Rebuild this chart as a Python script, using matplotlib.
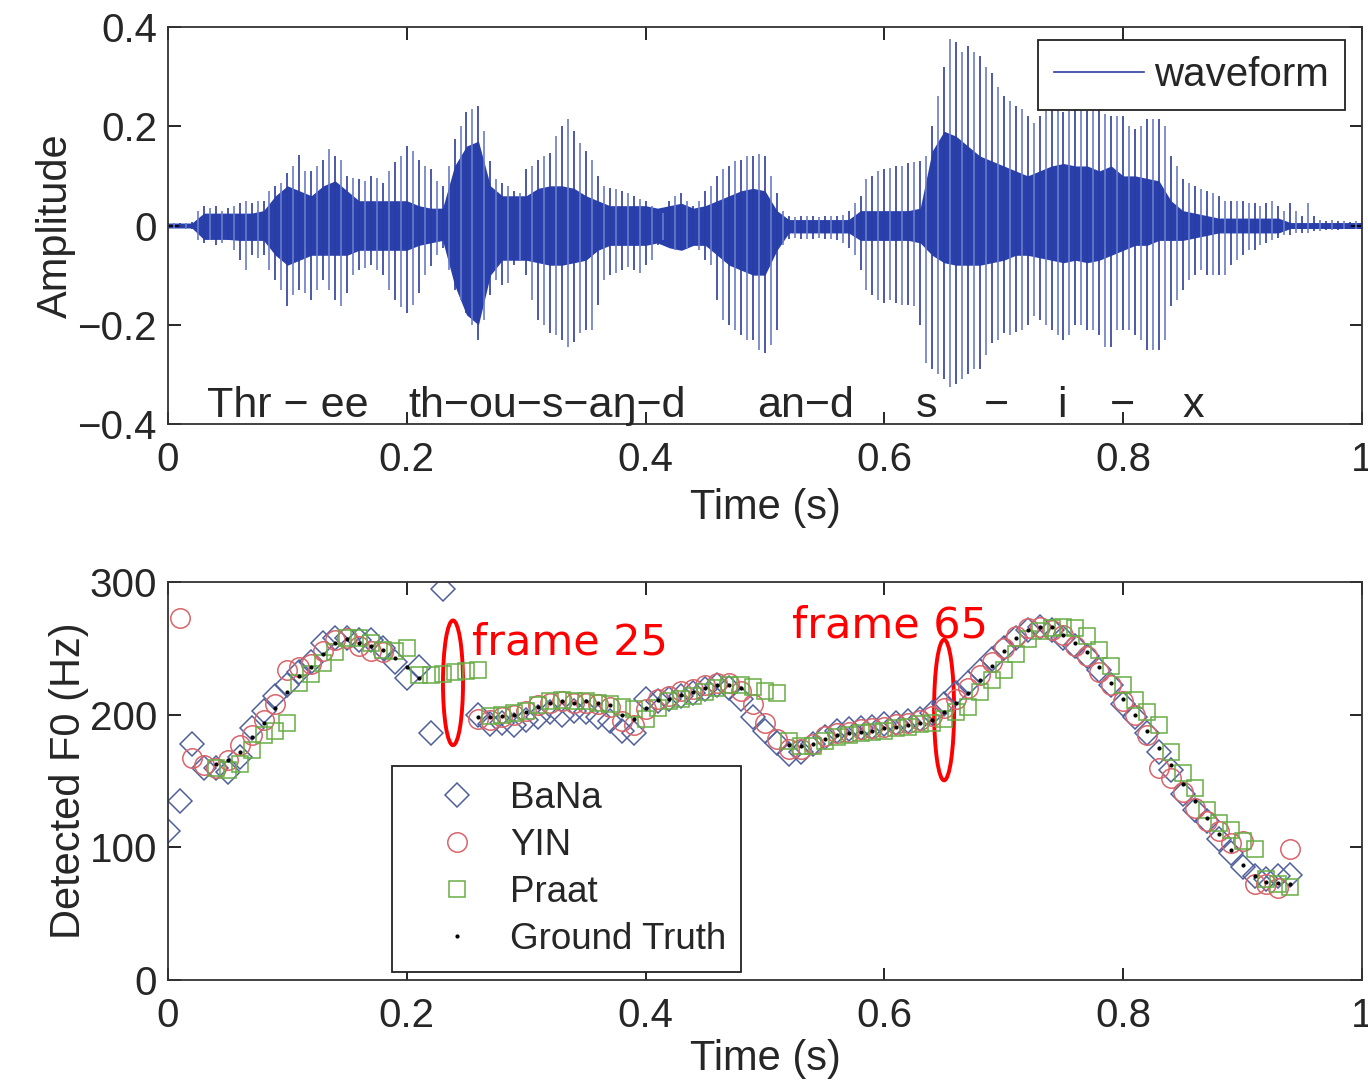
import numpy as np
import matplotlib
matplotlib.use('Agg')
import matplotlib.pyplot as plt
from matplotlib.lines import Line2D
from matplotlib.patches import Ellipse

plt.rcParams['font.family'] = ['Liberation Sans', 'DejaVu Sans']
plt.rcParams['axes.unicode_minus'] = True

nan = np.nan

# ---- waveform ----
# spike extremes every 5 ms (0 .. 1 s)
wave_hi = [
    0.005, 0.006, 0.006, 0.006, 0.008, 0.03, 0.04, 0.035, 0.04, 0.03,
    0.035, 0.04, 0.046, 0.05, 0.045, 0.05, 0.05, 0.07, 0.08, 0.085,
    0.106, 0.12, 0.143, 0.11, 0.11, 0.12, 0.133, 0.154, 0.14, 0.133,
    0.1, 0.095, 0.093, 0.09, 0.1, 0.095, 0.086, 0.11, 0.127, 0.14,
    0.16, 0.15, 0.133, 0.12, 0.113, 0.09, 0.08, 0.12, 0.174, 0.2,
    0.228, 0.235, 0.241, 0.19, 0.13, 0.093, 0.085, 0.08, 0.07, 0.066,
    0.113, 0.12, 0.133, 0.14, 0.147, 0.18, 0.2, 0.214, 0.19, 0.167,
    0.15, 0.133, 0.1, 0.08, 0.075, 0.073, 0.07, 0.066, 0.06, 0.053,
    0.05, 0.04, 0.03, 0.026, 0.05, 0.06, 0.066, 0.05, 0.04, 0.05,
    0.07, 0.08, 0.1, 0.113, 0.12, 0.13, 0.133, 0.14, 0.14, 0.145,
    0.14, 0.1, 0.066, 0.03, 0.02, 0.018, 0.02, 0.019, 0.02, 0.018,
    0.02, 0.019, 0.02, 0.022, 0.03, 0.045, 0.06, 0.093, 0.1, 0.11,
    0.113, 0.115, 0.12, 0.12, 0.125, 0.127, 0.13, 0.14, 0.2, 0.26,
    0.32, 0.376, 0.37, 0.35, 0.362, 0.35, 0.342, 0.32, 0.308, 0.28,
    0.26, 0.25, 0.24, 0.234, 0.22, 0.207, 0.22, 0.23, 0.24, 0.235,
    0.228, 0.23, 0.234, 0.234, 0.23, 0.234, 0.234, 0.225, 0.22, 0.22,
    0.22, 0.2, 0.194, 0.2, 0.214, 0.214, 0.214, 0.2, 0.14, 0.12,
    0.093, 0.085, 0.08, 0.073, 0.07, 0.066, 0.06, 0.05, 0.05, 0.05,
    0.05, 0.045, 0.045, 0.04, 0.045, 0.05, 0.04, 0.03, 0.045, 0.03,
    0.02, 0.045, 0.02, 0.012, 0.01, 0.012, 0.01, 0.01, 0.008, 0.01,
    0.008]
wave_lo = [
    -0.005, -0.006, -0.006, -0.007, -0.008, -0.03, -0.035, -0.03, -0.04, -0.035,
    -0.03, -0.05, -0.07, -0.089, -0.06, -0.065, -0.06, -0.09, -0.11, -0.13,
    -0.163, -0.14, -0.13, -0.135, -0.15, -0.13, -0.11, -0.13, -0.15, -0.163,
    -0.136, -0.1, -0.089, -0.085, -0.08, -0.09, -0.1, -0.13, -0.15, -0.165,
    -0.176, -0.16, -0.136, -0.1, -0.081, -0.06, -0.045, -0.09, -0.13, -0.15,
    -0.176, -0.2, -0.23, -0.19, -0.14, -0.11, -0.12, -0.116, -0.08, -0.07,
    -0.1, -0.15, -0.19, -0.2, -0.217, -0.22, -0.23, -0.244, -0.235, -0.217,
    -0.21, -0.21, -0.16, -0.11, -0.1, -0.096, -0.09, -0.083, -0.09, -0.096,
    -0.08, -0.07, -0.04, -0.03, -0.04, -0.05, -0.05, -0.045, -0.04, -0.05,
    -0.07, -0.08, -0.15, -0.19, -0.2, -0.21, -0.22, -0.23, -0.23, -0.25,
    -0.257, -0.24, -0.21, -0.04, -0.028, -0.026, -0.028, -0.027, -0.028, -0.026,
    -0.028, -0.027, -0.03, -0.035, -0.045, -0.06, -0.09, -0.13, -0.14, -0.15,
    -0.156, -0.15, -0.156, -0.16, -0.16, -0.163, -0.2, -0.277, -0.29, -0.3,
    -0.31, -0.325, -0.32, -0.31, -0.3, -0.29, -0.29, -0.26, -0.237, -0.23,
    -0.217, -0.22, -0.215, -0.21, -0.2, -0.183, -0.19, -0.2, -0.21, -0.22,
    -0.23, -0.22, -0.2, -0.2, -0.21, -0.21, -0.22, -0.244, -0.244, -0.21,
    -0.21, -0.21, -0.22, -0.23, -0.25, -0.25, -0.25, -0.23, -0.163, -0.15,
    -0.13, -0.11, -0.1, -0.09, -0.1, -0.1, -0.1, -0.1, -0.08, -0.07,
    -0.06, -0.05, -0.05, -0.04, -0.035, -0.03, -0.025, -0.02, -0.02, -0.015,
    -0.015, -0.015, -0.012, -0.012, -0.01, -0.01, -0.01, -0.008, -0.008, -0.008,
    -0.008]
# dense core of the waveform every 10 ms
core_hi = [
    0.005, 0.005, 0.005, 0.025, 0.025, 0.025, 0.025, 0.025, 0.03, 0.06,
    0.08, 0.07, 0.06, 0.08, 0.09, 0.07, 0.05, 0.05, 0.05, 0.05,
    0.05, 0.04, 0.035, 0.035, 0.12, 0.16, 0.17, 0.08, 0.06, 0.06,
    0.06, 0.075, 0.08, 0.08, 0.075, 0.06, 0.05, 0.04, 0.04, 0.04,
    0.04, 0.035, 0.04, 0.045, 0.035, 0.04, 0.05, 0.06, 0.07, 0.075,
    0.07, 0.03, 0.012, 0.012, 0.012, 0.012, 0.012, 0.012, 0.03, 0.03,
    0.03, 0.03, 0.03, 0.035, 0.15, 0.19, 0.18, 0.16, 0.14, 0.13,
    0.12, 0.11, 0.1, 0.11, 0.12, 0.125, 0.12, 0.12, 0.11, 0.12,
    0.1, 0.1, 0.095, 0.09, 0.05, 0.03, 0.025, 0.02, 0.015, 0.015,
    0.015, 0.015, 0.015, 0.015, 0.006, 0.006, 0.006, 0.006, 0.006, 0.006,
    0.006]
core_lo = [
    -0.005, -0.005, -0.005, -0.028, -0.028, -0.028, -0.03, -0.03, -0.03, -0.06,
    -0.08, -0.07, -0.06, -0.06, -0.06, -0.06, -0.05, -0.05, -0.05, -0.05,
    -0.05, -0.04, -0.035, -0.03, -0.12, -0.18, -0.2, -0.1, -0.07, -0.07,
    -0.07, -0.075, -0.08, -0.08, -0.075, -0.07, -0.05, -0.04, -0.04, -0.04,
    -0.04, -0.035, -0.045, -0.05, -0.04, -0.04, -0.06, -0.08, -0.09, -0.1,
    -0.1, -0.05, -0.015, -0.015, -0.015, -0.015, -0.015, -0.015, -0.03, -0.03,
    -0.03, -0.03, -0.03, -0.035, -0.06, -0.075, -0.08, -0.08, -0.08, -0.075,
    -0.07, -0.06, -0.06, -0.065, -0.07, -0.075, -0.07, -0.075, -0.07, -0.06,
    -0.05, -0.04, -0.04, -0.03, -0.03, -0.03, -0.025, -0.02, -0.015, -0.015,
    -0.015, -0.015, -0.015, -0.015, -0.006, -0.006, -0.006, -0.006, -0.006, -0.006,
    -0.006]

syllables = ['Thr − ee', 'th−ou−s−aŋ−d', 'an−d', 's', '−', 'i', '−', 'x']
syllable_t = [0.033, 0.201, 0.493, 0.626, 0.683, 0.745, 0.789, 0.85]

# ---- detected F0 per 10 ms frame (0 .. 0.94 s) ----
gt = [nan, nan, nan, nan, 163, 166, 172, 183, 194, 205,
      217, 229, 236, 246, 254, 257, 254, 252, 249, 243,
      236, 228, nan, nan, nan, nan, 198, 198, 199, 200,
      202, 206, 209, 210, 209, 210, 209, 207, 200, 197,
      205, 211, 212, 215, 217, 220, 222, 222, 220, nan,
      nan, nan, 177, 176, 178, 182, 185, 186, 187, 188,
      190, 191, 192, 194, 196, 202, 209, 216, 226, 237,
      248, 258, 264, 266, 266, 260, 254, 247, 236, 224,
      212, 200, 188, 175, 162, 148, 135, 122, 110, 98,
      87, 78, 74, 73, 72]
bana = [112, 135, 178, 160, 160, 157, 168, 190, 203, 214,
        222, 232, 240, 254, 258, 258, 256, 256, 250, 240,
        228, 236, 186, 295, nan, nan, 200, 193, 194, 192,
        196, 198, 202, 200, 203, 202, 198, 195, 188, 186,
        212, 210, 212, 214, 216, 219, 222, 220, 212, 198,
        188, 179, 170, 172, 178, 183, 188, 189, 190, 191,
        193, 194, 195, 197, 201, 208, 216, 224, 233, 242,
        250, 258, 264, 266, 264, 258, 252, 244, 234, 222,
        208, 198, 186, 172, 158, 140, 128, 120, 106, 96,
        85, 78, 76, 78, 79]
yin = [nan, 273, 167, 162, 160, 166, 177, 185, 196, 208,
       234, 236, 238, 248, 256, 258, 252, 248, 247, nan,
       nan, nan, nan, nan, nan, nan, 197, 196, 198, 200,
       203, 207, 209, 210, 209, 209, 208, 206, 195, 192,
       204, 212, 214, 218, 219, 222, 224, 224, 218, 208,
       194, 182, 174, 174, 178, 184, 186, 187, 189, 190,
       191, 193, 194, 196, 199, 205, 212, 220, 230, 240,
       250, 259, 265, 266, 264, 260, 252, 244, 232, 222,
       210, 200, 185, 160, 152, 142, 130, 120, 112, 103,
       105, 72, 72, 69, 99]
praat = [nan, nan, nan, nan, 160, 158, 163, 173, 185, 188,
         194, 224, 231, 239, 247, 258, 258, 254, 249, 248,
         250, 230, 230, 231, 232, 233, 234, 199, 200, 201,
         203, 207, 210, 211, 210, 210, 209, 208, 206, 204,
         197, 205, 210, 212, 214, 217, 220, 222, 222, 221,
         218, 216, 180, 176, 176, 180, 183, 185, 186, 187,
         188, 190, 191, 193, 194, 197, 202, 206, 217, 226,
         234, 246, 257, 263, 265, 266, 265, 259, 249, 237,
         222, 211, 202, 192, 172, 156, 145, 128, 118, 113,
         105, 99, 76, 72, 70]

t_wave = np.arange(len(wave_hi)) * 0.005
t_core = np.arange(len(core_hi)) * 0.01
t_frame = np.arange(len(gt)) * 0.01

txt = '#262626'
fig = plt.figure(figsize=(13.68, 10.85), dpi=100)
ax1 = fig.add_axes([0.1228, 0.6092, 0.8728, 0.3659])
ax2 = fig.add_axes([0.1228, 0.0968, 0.8728, 0.3668])

# ---- top: waveform ----
hi = np.array(wave_hi)
lo = np.array(wave_lo)
ax1.vlines(t_wave[::2], lo[::2], hi[::2], color='#2c3d9c', lw=1.2)
ax1.vlines(t_wave[1::2], lo[1::2], hi[1::2], color='#6c7cc6', lw=1.2)
ax1.fill_between(t_core, core_lo, core_hi, color='#2840ad', lw=0)
for s, x in zip(syllables, syllable_t):
    ax1.text(x, -0.385, s, fontsize=31, color=txt, va='baseline', ha='left')
ax1.set_xlim(0, 1)
ax1.set_ylim(-0.4, 0.4)
ax1.set_xticks([0, 0.2, 0.4, 0.6, 0.8, 1])
ax1.set_xticklabels(['0', '0.2', '0.4', '0.6', '0.8', '1'])
ax1.set_yticks([-0.4, -0.2, 0, 0.2, 0.4])
ax1.set_yticklabels(['\u22120.4', '\u22120.2', '0', '0.2', '0.4'])
ax1.set_xlabel('Time (s)', fontsize=30, color=txt, labelpad=7)
ax1.set_ylabel('Amplitude', fontsize=30, color=txt, labelpad=1)
leg1 = ax1.legend([Line2D([], [], color='#2c3d9c', lw=1.2)], ['waveform'],
                  loc='upper right', bbox_to_anchor=(0.986, 0.967), borderaxespad=0,
                  fontsize=29, fancybox=False, framealpha=1, edgecolor='#222',
                  handlelength=2.25, handletextpad=0.25, borderpad=0.4)
leg1.get_frame().set_linewidth(1.3)
for t in leg1.get_texts():
    t.set_color(txt)

# ---- bottom: F0 tracks ----
ax2.plot(t_frame, bana, ls='none', marker='D', ms=12, mfc='none', mec='#50609e', mew=1.1, label='BaNa')
ax2.plot(t_frame, yin, ls='none', marker='o', ms=14, mfc='none', mec='#d9646a', mew=1.1, label='YIN')
ax2.plot(t_frame, praat, ls='none', marker='s', ms=12, mfc='none', mec='#67ad45', mew=1.1, label='Praat')
ax2.plot(t_frame, gt, ls='none', marker='.', ms=4, color='black', label='Ground Truth')

ax2.add_patch(Ellipse((0.2387, 224), 0.0168, 94, fill=False, ec='red', lw=2.8))
ax2.add_patch(Ellipse((0.65, 203.5), 0.0168, 106, fill=False, ec='red', lw=2.8))
ax2.text(0.2546, 245, 'frame 25', color='red', fontsize=31, family='DejaVu Sans', va='baseline')
ax2.text(0.5226, 258, 'frame 65', color='red', fontsize=31, family='DejaVu Sans', va='baseline')

ax2.set_xlim(0, 1)
ax2.set_ylim(0, 300)
ax2.set_xticks([0, 0.2, 0.4, 0.6, 0.8, 1])
ax2.set_xticklabels(['0', '0.2', '0.4', '0.6', '0.8', '1'])
ax2.set_yticks([0, 100, 200, 300])
ax2.set_xlabel('Time (s)', fontsize=30, color=txt, labelpad=3)
ax2.set_ylabel('Detected F0 (Hz)', fontsize=30, color=txt, labelpad=0)
leg2 = ax2.legend(loc='lower left', bbox_to_anchor=(0.1876, 0.02), borderaxespad=0,
                  fontsize=26.5, fancybox=False, framealpha=1, edgecolor='#222',
                  handlelength=2.72, handletextpad=0.1, labelspacing=0.33, borderpad=0.4)
leg2.get_frame().set_linewidth(1.3)
for t in leg2.get_texts():
    t.set_color(txt)

for ax in (ax1, ax2):
    ax.tick_params(direction='in', length=9, width=1.2, top=True, right=True,
                   labelsize=29, labelcolor=txt, pad=8)
    ax.tick_params(axis='x', pad=12)
    for sp in ax.spines.values():
        sp.set_linewidth(1.3)
        sp.set_color('#333333')

fig.savefig('out.png', dpi=100)
